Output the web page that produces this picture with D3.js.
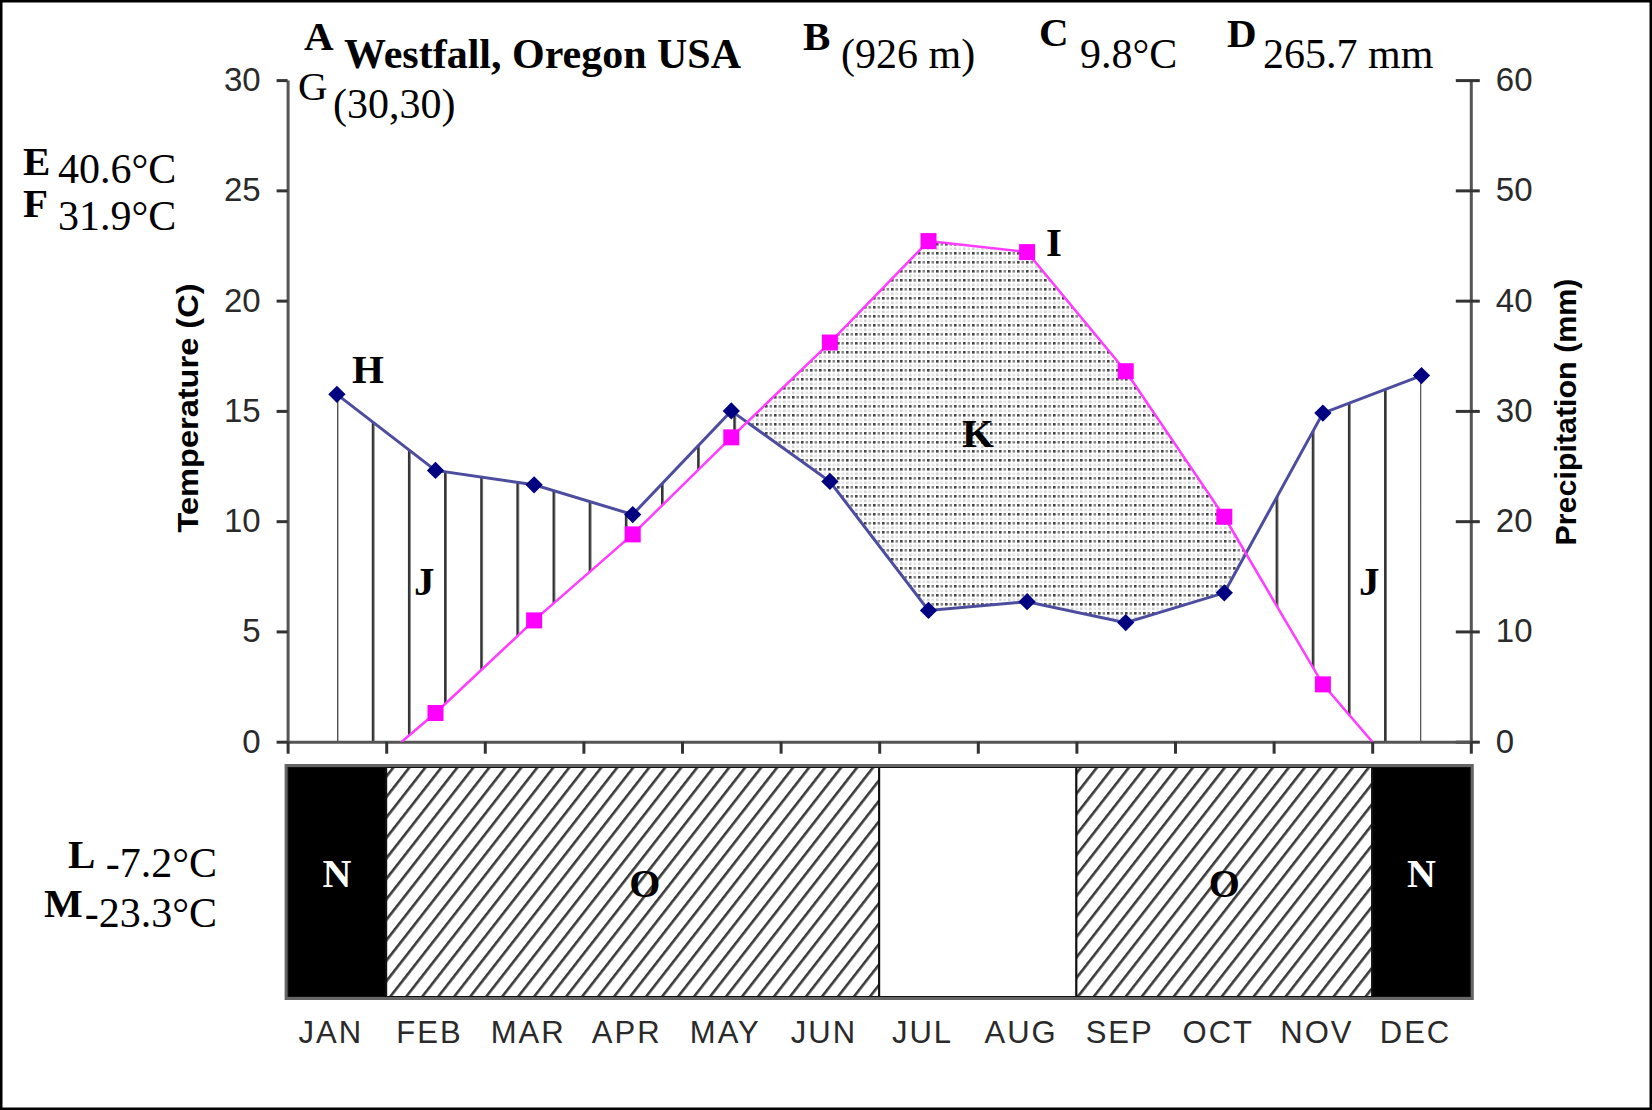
<!DOCTYPE html>
<html>
<head>
<meta charset="utf-8">
<script src="https://cdn.jsdelivr.net/npm/d3@7"></script>
<style>
  body { margin: 0; background: #fff; }
  svg { display: block; }
  .serif { font-family: "Liberation Serif", "Times New Roman", serif; fill: #000; }
  .sans { font-family: "Liberation Sans", Arial, sans-serif; }
</style>
</head>
<body>
<div id="chart"></div>
<script>
// climate diagram data
var months = ["JAN", "FEB", "MAR", "APR", "MAY", "JUN", "JUL", "AUG", "SEP", "OCT", "NOV", "DEC"];
var temperature = [-2.5, 1.3, 5.5, 9.4, 13.8, 18.1, 22.7, 22.2, 16.8, 10.2, 2.6, -2.6];
var precipitation = [31.5, 24.6, 23.3, 20.6, 30.0, 23.6, 11.9, 12.7, 10.8, 13.5, 29.8, 33.2];
var frost = ["N", "O", "O", "O", "O", "O", "", "", "O", "O", "O", "N"];
var tempTicks = [0, 5, 10, 15, 20, 25, 30];
var precTicks = [0, 10, 20, 30, 40, 50, 60];

var W = 1652, H = 1110;
var xL = 287.6, xR = 1470.8, y0 = 741.7, yTop = 80.1;
var stripTop = 767, stripBot = 997;

var svg = d3.select("#chart").append("svg")
    .attr("width", W)
    .attr("height", H);

var defs = svg.append("defs");

var xBand = d3.scaleBand().domain(months).range([xL, xR]).padding(0);
var xIdx = d3.scaleLinear().domain([0, 12]).range([xL, xR]);
var yT = d3.scaleLinear().domain([0, 30]).range([y0, yTop]);
var yP = d3.scaleLinear().domain([0, 60]).range([y0, yTop]);
var xPt = function(i) { return xBand(months[i]) + xBand.bandwidth() / 2; };

// patterns
var hatchStep = (xPt(11) - xPt(0)) / 30;
var vh = defs.append("pattern").attr("id", "vhatch")
    .attr("patternUnits", "userSpaceOnUse")
    .attr("x", xPt(0) - 1.3).attr("y", 0)
    .attr("width", hatchStep).attr("height", 10);
vh.append("rect").attr("width", 2.6).attr("height", 10).attr("fill", "#333");

var dots = defs.append("pattern").attr("id", "dots")
    .attr("patternUnits", "userSpaceOnUse")
    .attr("width", 9).attr("height", 9);
dots.append("rect").attr("width", 9).attr("height", 9).attr("fill", "#fff");
dots.append("rect").attr("x", 0).attr("y", 0).attr("width", 2.6).attr("height", 2.6).attr("fill", "#444");
dots.append("rect").attr("x", 4.5).attr("y", 0).attr("width", 2.6).attr("height", 2.6).attr("fill", "#888");
dots.append("rect").attr("x", 0).attr("y", 4.5).attr("width", 2.6).attr("height", 2.6).attr("fill", "#d4d4d4");
dots.append("rect").attr("x", 4.5).attr("y", 4.5).attr("width", 2.6).attr("height", 2.6).attr("fill", "#e4e4e4");

var diag = defs.append("pattern").attr("id", "diag")
    .attr("patternUnits", "userSpaceOnUse")
    .attr("width", 12.6).attr("height", 20)
    .attr("patternTransform", "rotate(38)");
diag.append("rect").attr("width", 12.6).attr("height", 20).attr("fill", "#fff");
diag.append("rect").attr("width", 2.6).attr("height", 20).attr("fill", "#3a3a3a");

// clip regions built from the two curves
var belowBlue = d3.area().x(function(d, i) { return xPt(i); })
    .y0(y0).y1(function(d) { return yP(d); });
var aboveBlue = d3.area().x(function(d, i) { return xPt(i); })
    .y0(yTop - 60).y1(function(d) { return yP(d); });
var abovePink = d3.area().x(function(d, i) { return xPt(i); })
    .y0(yTop - 60).y1(function(d) { return yT(d); });
var belowPink = d3.area().x(function(d, i) { return xPt(i); })
    .y0(y0).y1(function(d) { return yT(d); });

defs.append("clipPath").attr("id", "clipBelowBlue")
    .append("path").attr("d", belowBlue(precipitation));
defs.append("clipPath").attr("id", "clipAboveBlue")
    .append("path").attr("d", aboveBlue(precipitation));
defs.append("clipPath").attr("id", "plotClip")
    .append("rect").attr("x", xL).attr("y", 0).attr("width", xR - xL).attr("height", y0 - 0);

// humid (J) and arid (K) areas
svg.append("path")
    .attr("d", belowPink(temperature))
    .attr("fill", "url(#dots)")
    .attr("clip-path", "url(#clipAboveBlue)");
svg.append("path")
    .attr("d", abovePink(temperature))
    .attr("fill", "url(#vhatch)")
    .attr("clip-path", "url(#clipBelowBlue)");

// axes
function styleAxis(g) {
    g.select(".domain").attr("stroke", "#555").attr("stroke-width", 3);
    g.selectAll(".tick line").attr("stroke", "#333").attr("stroke-width", 3);
    g.selectAll(".tick text")
        .attr("class", "sans")
        .attr("fill", "#2a2a2a")
        .style("font-size", "33px");
}

var leftAxis = svg.append("g")
    .attr("transform", "translate(" + xL + ",0)")
    .call(d3.axisLeft(yT).tickValues(tempTicks).tickSize(11).tickSizeOuter(0).tickPadding(16));
styleAxis(leftAxis);

var rightAxis = svg.append("g")
    .attr("transform", "translate(" + xR + ",0)")
    .call(d3.axisRight(yP).tickValues(precTicks).tickSize(9).tickSizeOuter(0).tickPadding(16));
styleAxis(rightAxis);
rightAxis.selectAll(".tick line").attr("x1", -15);

var bottomAxis = svg.append("g")
    .attr("transform", "translate(0," + y0 + ")")
    .call(d3.axisBottom(xIdx).tickValues(d3.range(13)).tickFormat("").tickSize(12).tickSizeOuter(0));
styleAxis(bottomAxis);

// lines
var line = function(scale) {
    return d3.line().x(function(d, i) { return xPt(i); }).y(function(d) { return scale(d); });
};

var plot = svg.append("g").attr("clip-path", "url(#plotClip)");

plot.append("path")
    .attr("d", line(yP)(precipitation))
    .attr("fill", "none")
    .attr("stroke", "#4d4d9f")
    .attr("stroke-width", 3);

plot.append("path")
    .attr("d", line(yT)(temperature))
    .attr("fill", "none")
    .attr("stroke", "#ff3cff")
    .attr("stroke-width", 2.5);

plot.selectAll(".pdot")
    .data(precipitation)
    .enter().append("path")
    .attr("class", "pdot")
    .attr("d", d3.symbol().type(d3.symbolDiamond2).size(190))
    .attr("transform", function(d, i) { return "translate(" + xPt(i) + "," + yP(d) + ")"; })
    .attr("fill", "#000080");

plot.selectAll(".tdot")
    .data(temperature)
    .enter().append("rect")
    .attr("class", "tdot")
    .attr("x", function(d, i) { return xPt(i) - 8; })
    .attr("y", function(d) { return yT(d) - 8; })
    .attr("width", 16).attr("height", 16)
    .attr("fill", "#ff00ff");

// frost strip
var segments = [];
frost.forEach(function(f, i) {
    var last = segments[segments.length - 1];
    if (last && last.kind === f) last.end = i;
    else segments.push({kind: f, start: i, end: i});
});

var strip = svg.append("g");
strip.selectAll("rect")
    .data(segments)
    .enter().append("rect")
    .attr("x", function(d) { return xIdx(d.start); })
    .attr("y", stripTop)
    .attr("width", function(d) { return xIdx(d.end + 1) - xIdx(d.start); })
    .attr("height", stripBot - stripTop)
    .attr("fill", function(d) { return d.kind === "N" ? "#000" : d.kind === "O" ? "url(#diag)" : "#fff"; })
    .attr("stroke", "#111")
    .attr("stroke-width", 2);
strip.append("rect")
    .attr("x", xL - 1.5).attr("y", stripTop - 1.5)
    .attr("width", xR - xL + 3).attr("height", stripBot - stripTop + 3)
    .attr("fill", "none").attr("stroke", "#666").attr("stroke-width", 3);

strip.selectAll("text")
    .data(segments.filter(function(d) { return d.kind !== ""; }))
    .enter().append("text")
    .attr("class", "serif")
    .attr("x", function(d) { return (xIdx(d.start) + xIdx(d.end + 1)) / 2 + (d.kind === "O" && d.start < 6 ? 12 : 0); })
    .attr("y", function(d) { return d.kind === "N" ? 887 : 897; })
    .attr("text-anchor", "middle")
    .style("font-size", "40px")
    .style("font-weight", "bold")
    .style("fill", function(d) { return d.kind === "N" ? "#fff" : "#000"; })
    .text(function(d) { return d.kind; });

// month labels
svg.selectAll(".month")
    .data(months)
    .enter().append("text")
    .attr("class", "month sans")
    .attr("x", function(d) { return xBand(d) + xBand.bandwidth() / 2 - 6; })
    .attr("y", 1043)
    .attr("text-anchor", "middle")
    .attr("fill", "#2a2a2a")
    .style("font-size", "31px")
    .style("letter-spacing", "2px")
    .text(function(d) { return d; });

// axis titles
svg.append("text")
    .attr("class", "sans")
    .attr("transform", "translate(198,408) rotate(-90)")
    .attr("text-anchor", "middle")
    .attr("textLength", 249)
    .attr("lengthAdjust", "spacingAndGlyphs")
    .style("font-size", "30px").style("font-weight", "bold")
    .text("Temperature (C)");
svg.append("text")
    .attr("class", "sans")
    .attr("transform", "translate(1576,412) rotate(-90)")
    .attr("text-anchor", "middle")
    .attr("textLength", 267)
    .attr("lengthAdjust", "spacingAndGlyphs")
    .style("font-size", "30px").style("font-weight", "bold")
    .text("Precipitation (mm)");

// annotations
var notes = [
    ["A", 304, 50, true, "start"],
    ["Westfall, Oregon USA", 344, 68, true, "start"],
    ["B", 803, 50, true, "start"],
    ["(926 m)", 841, 68, false, "start"],
    ["C", 1039, 46, true, "start"],
    ["9.8°C", 1080, 68, false, "start"],
    ["D", 1227, 47, true, "start"],
    ["265.7 mm", 1263, 68, false, "start"],
    ["G", 298, 100, false, "start"],
    ["(30,30)", 333, 118, false, "start"],
    ["E", 23, 175, true, "start"],
    ["40.6°C", 58, 183, false, "start"],
    ["F", 23, 217, true, "start"],
    ["31.9°C", 58, 230, false, "start"],
    ["H", 352, 383, true, "start"],
    ["I", 1046, 256, true, "start"],
    ["J", 414, 595, true, "start"],
    ["J", 1359, 595, true, "start"],
    ["K", 962, 447, true, "start"],
    ["L", 68, 868, true, "start"],
    ["-7.2°C", 217, 877, false, "end"],
    ["M", 44, 917, true, "start"],
    ["-23.3°C", 217, 927, false, "end"]
];
svg.selectAll(".note")
    .data(notes)
    .enter().append("text")
    .attr("class", "note serif")
    .attr("x", function(d) { return d[1]; })
    .attr("y", function(d) { return d[2]; })
    .attr("text-anchor", function(d) { return d[4]; })
    .style("font-size", function(d) { return d[0].length === 1 ? "41px" : "42px"; })
    .style("font-weight", function(d) { return d[3] ? "bold" : "normal"; })
    .text(function(d) { return d[0]; });

// frame
svg.append("rect")
    .attr("x", 1).attr("y", 1).attr("width", W - 2).attr("height", H - 2)
    .attr("fill", "none").attr("stroke", "#000").attr("stroke-width", 3);
</script>
</body>
</html>
